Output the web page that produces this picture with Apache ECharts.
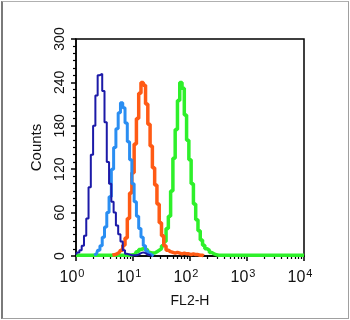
<!DOCTYPE html>
<html>
<head>
<meta charset="utf-8">
<script src="https://cdn.jsdelivr.net/npm/echarts@6/dist/echarts.min.js"></script>
<style>
html,body{margin:0;padding:0;background:#fff;}
#frame{position:absolute;left:1px;top:1px;width:345px;height:316px;border-left:2px solid #7a7a7a;border-top:1px solid #b0b0b0;border-right:1px solid #a0a0a0;border-bottom:1px solid #a0a0a0;}
#c{position:absolute;left:0;top:0;width:350px;height:320px;}
</style>
</head>
<body>
<div id="frame"></div>
<div id="c"></div>
<script>
// bin width in decades (log10 units of FL2-H)
const binWidth = 0.04;
const decadeTicks = [0, 1, 2, 3, 4];
const yTicks = [0, 60, 120, 180, 240, 300];

// dark blue (isotype / control)
const darkBlueStart = 0.00;
const darkBlueCounts = [2, 5, 8, 14, 28, 52, 95, 140, 180, 222, 250, 252, 228, 185, 130, 100, 75, 60, 42, 30, 20, 8, 3, 2, 1, 1, 1, 2, 4, 5, 4, 2, 1, 0];
// light blue
const lightBlueStart = 0.32;
const lightBlueCounts = [1, 3, 8, 14, 26, 40, 60, 82, 120, 150, 176, 198, 212, 205, 184, 158, 133, 100, 75, 55, 38, 26, 14, 7, 3, 1, 0];
// orange
const orangeStart = 0.64;
const orangeCounts = [1, 2, 3, 5, 8, 15, 25, 52, 87, 115, 155, 190, 225, 240, 236, 210, 182, 152, 122, 98, 72, 46, 28, 14, 8, 6, 5, 4, 5, 4, 3, 4, 3, 3, 2, 3, 2, 2, 1, 1, 0];
// green
const greenStart = 0.00;
const greenCounts = [1, 1, 1, 1, 1, 1, 1, 1, 1, 1, 1, 1, 1, 1, 1, 1, 1, 1, 1, 1, 1, 1, 1, 1, 1,
  2, 3, 6, 9, 10, 10, 8, 5, 4, 4, 6, 8, 10, 14, 20, 38, 55, 90, 135, 175, 215, 240, 232, 195, 160, 133, 100, 72, 50, 35, 22, 15, 10, 8, 5, 3, 2,
  1, 1, 1, 1, 1, 1, 1, 1, 1, 1, 1, 1, 1, 1, 1, 1, 1, 1, 1, 1, 1, 1, 1, 1, 1, 1, 1, 1, 1, 1, 1, 1, 1, 1, 1, 1, 1, 1, 1];

function toData(start, counts) {
  return counts.map((c, i) => [start + i * binWidth, c]);
}
const minorLog = [];
for (let d = 0; d < 4; d++) for (let k = 2; k <= 9; k++) minorLog.push(d + Math.log10(k));

const font = '"Liberation Sans", Arial, Helvetica, sans-serif';
const chart = echarts.init(document.getElementById('c'));
chart.setOption({
  animation: false,
  grid: {left: 76, right: 46, top: 39, bottom: 64, show: true, borderColor: '#000', borderWidth: 1.5, backgroundColor: 'transparent'},
  xAxis: [{
    type: 'value', min: 0, max: 4, interval: 1,
    name: 'FL2-H', nameLocation: 'middle', nameGap: 38,
    nameTextStyle: {fontFamily: font, fontSize: 14, color: '#111'},
    axisLine: {lineStyle: {color: '#000', width: 1.5}},
    axisTick: {length: 5, lineStyle: {color: '#000', width: 1.5}},
    splitLine: {show: false},
    axisLabel: {
      margin: 12, padding: [0, 8, 0, 0],
      formatter: v => '{b|10}{s|' + v + '}',
      rich: {
        b: {fontFamily: font, fontSize: 16, color: '#111', verticalAlign: 'bottom', lineHeight: 18},
        s: {fontFamily: font, fontSize: 11, color: '#111', verticalAlign: 'top', padding: [0, 0, 10, 1], lineHeight: 12}
      }
    }
  }, {
    type: 'value', min: 0, max: 4, position: 'bottom',
    axisLine: {show: false},
    axisLabel: {show: false},
    splitLine: {show: false},
    axisTick: {show: true, length: 3, customValues: minorLog, lineStyle: {color: '#000', width: 1.2}}
  }],
  yAxis: {
    type: 'value', min: 0, max: 300, interval: 60,
    name: 'Counts', nameLocation: 'middle', nameGap: 32, nameRotate: 90,
    nameTextStyle: {fontFamily: font, fontSize: 15, color: '#111'},
    axisLine: {show: true, lineStyle: {color: '#000', width: 1.5}},
    axisTick: {show: true, length: 5, lineStyle: {color: '#000', width: 1.5}},
    minorTick: {show: true, splitNumber: 6, length: 3, lineStyle: {color: '#000', width: 1.2}},
    splitLine: {show: false},
    axisLabel: {rotate: 90, margin: 9, fontFamily: font, fontSize: 14, color: '#111'}
  },
  series: [
    {type: 'line', step: 'middle', showSymbol: false, data: toData(greenStart, greenCounts), lineStyle: {color: '#2ef02a', width: 3.5}, z: 2},
    {type: 'line', step: 'middle', showSymbol: false, data: toData(orangeStart, orangeCounts), lineStyle: {color: '#ff5a14', width: 3.5}, z: 3},
    {type: 'line', step: 'middle', showSymbol: false, data: toData(lightBlueStart, lightBlueCounts), lineStyle: {color: '#2a8ef2', width: 3}, z: 4},
    {type: 'line', step: 'middle', showSymbol: false, data: toData(darkBlueStart, darkBlueCounts), lineStyle: {color: '#1c1aa8', width: 2}, z: 5}
  ]
});
</script>
</body>
</html>
